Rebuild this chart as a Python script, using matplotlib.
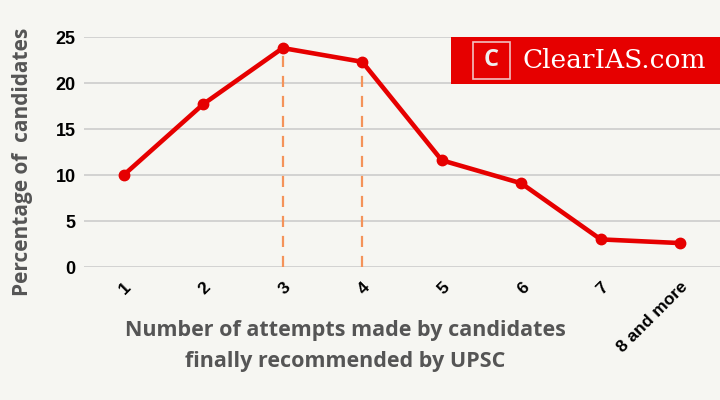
import matplotlib
matplotlib.use('Agg')
import matplotlib.pyplot as plt
from matplotlib.patches import Rectangle

attempts = ['1', '2', '3', '4', '5', '6', '7', '8 and more']
percent = [10.0, 17.7, 23.8, 22.3, 11.6, 9.1, 3.0, 2.6]
highlight = [3, 4]
yticks = [0, 5, 10, 15, 20, 25]

bg = '#f6f6f2'
red = '#e60000'
gray = '#555555'

fig = plt.figure(figsize=(7.2, 4.0), dpi=100, facecolor=bg)
ax = fig.add_axes([84/720, 1-267/400, 636/720, 230/400], facecolor=bg)

x = list(range(1, len(attempts)+1))
for h in highlight:
    ax.plot([h, h], [0, percent[h-1]], color='#f4935a', lw=1.6, ls=(0, (5, 4)), zorder=2)
ax.plot(x, percent, color=red, lw=3.3, marker='o', ms=7.5, zorder=3)

ax.set_xlim(0.5, 8.5)
ax.set_ylim(0, 25)
ax.set_yticks(yticks)
ax.set_xticks(x)
ax.set_xticklabels(attempts, rotation=45, ha='right', rotation_mode='anchor',
                   fontsize=12.5, fontweight='bold', family='Liberation Sans')
ax.set_yticklabels([str(t) for t in yticks], fontsize=13, fontweight='bold',
                   family='Liberation Sans')
ax.tick_params(length=0)
ax.tick_params(axis='y', pad=6)
ax.tick_params(axis='x', pad=9)
for s in ax.spines.values():
    s.set_visible(False)
ax.grid(axis='y', color='#cccccc', lw=1.2, zorder=0)
ax.set_axisbelow(True)

fig.text(23/720, 1-162/400, 'Percentage of  candidates', rotation=90, ha='center', va='center',
         fontsize=15, fontweight='bold', color=gray, family='Open Sans')
fig.text(345/720, 1-346/400, 'Number of attempts made by candidates\nfinally recommended by UPSC',
         ha='center', va='center', fontsize=15.5, fontweight='bold', color=gray, family='Open Sans',
         linespacing=1.6)

# logo
fig.patches.append(Rectangle((451/720, 1-84/400), 269/720, 47/400, transform=fig.transFigure,
                             facecolor=red, edgecolor='none', zorder=5))
fig.patches.append(Rectangle((473/720, 1-79/400), 37/720, 37/400, transform=fig.transFigure,
                             facecolor='none', edgecolor='#f2c0c0', lw=1.2, zorder=6))
fig.text(491.5/720, 1-60.5/400, 'C', ha='center', va='center', color='#eeeeee', fontsize=17,
         fontweight='bold', family='Open Sans', zorder=7)
fig.text(522/720, 1-61/400, 'ClearIAS.com', ha='left', va='center', color='white', fontsize=19,
         family='DejaVu Serif', zorder=7)

fig.savefig('out.png', dpi=100, facecolor=bg)
